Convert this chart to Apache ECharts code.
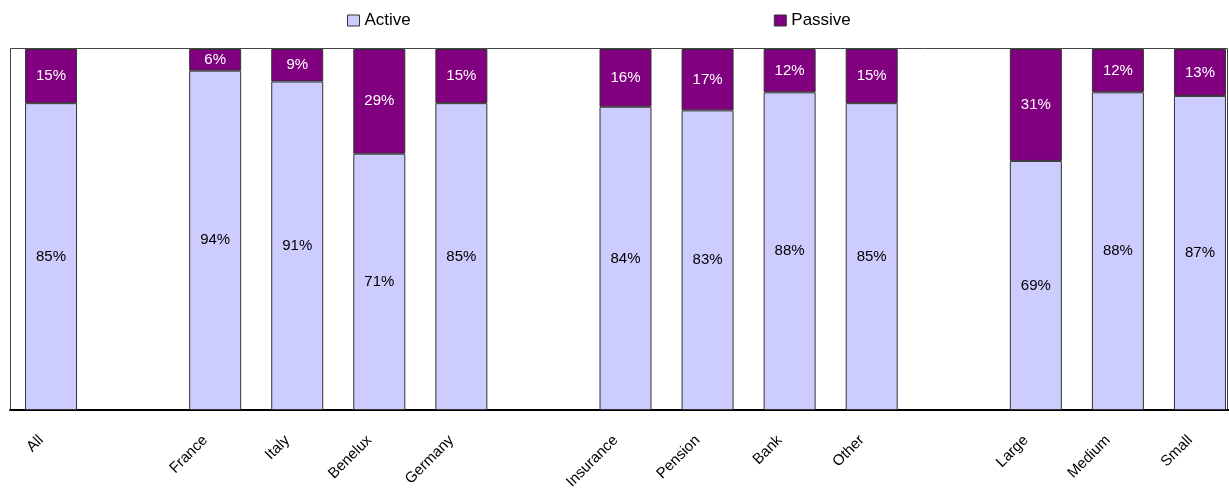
<!DOCTYPE html>
<html>
<head>
<meta charset="utf-8">
<script src="https://cdn.jsdelivr.net/npm/echarts@6/dist/echarts.min.js"></script>
<style>
html,body{margin:0;padding:0;background:#fff;}
#chart{width:1229px;height:490px;}
</style>
</head>
<body>
<div id="chart"></div>
<script>
const categories = ['All', '', 'France', 'Italy', 'Benelux', 'Germany', '', 'Insurance', 'Pension', 'Bank', 'Other', '', 'Large', 'Medium', 'Small'];
const activeValues = [85, null, 94, 91, 71, 85, null, 84, 83, 88, 85, null, 69, 88, 87];
const passiveValues = [15, null, 6, 9, 29, 15, null, 16, 17, 12, 15, null, 31, 12, 13];

const FONT = '"Liberation Sans", Arial, sans-serif';
const chart = echarts.init(document.getElementById('chart'), null, {renderer: 'canvas'});
chart.setOption({
  animation: false,
  backgroundColor: '#fff',
  legend: {
    top: 12,
    left: 347,
    padding: 0,
    itemWidth: 12,
    itemHeight: 11,
    itemGap: 363,
    icon: 'rect',
    textStyle: {fontFamily: FONT, fontSize: 17, color: '#000'},
    data: [
      {name: 'Active', itemStyle: {borderColor: '#333', borderWidth: 1}},
      {name: 'Passive', itemStyle: {borderColor: '#333', borderWidth: 1}}
    ]
  },
  graphic: [{
    type: 'polyline', silent: true, z: 0,
    shape: {points: [[10.5, 410], [10.5, 48.5], [1227.5, 48.5], [1227.5, 410]]},
    style: {fill: null, stroke: '#444', lineWidth: 1}
  }],
  grid: {
    left: 10, top: 49, width: 1231, height: 361,
    show: false, containLabel: false, outerBoundsMode: 'none'
  },
  xAxis: {
    type: 'category',
    data: categories,
    axisLine: {lineStyle: {color: '#000', width: 2}},
    axisTick: {show: false},
    axisLabel: {rotate: 45, interval: 0, margin: 18, padding: [0, 14, 0, 0], fontFamily: FONT, fontSize: 15, color: '#000'}
  },
  yAxis: {
    type: 'value', min: 0, max: 100,
    show: false, splitLine: {show: false}
  },
  series: [
    {
      name: 'Active', type: 'bar', stack: 'total', barWidth: 52,
      data: activeValues,
      itemStyle: {color: '#CCCCFF', borderColor: '#333', borderWidth: 1},
      label: {show: true, position: 'inside', formatter: p => p.value + '%', fontFamily: FONT, fontSize: 15, color: '#000', padding: [3, 0, 0, 0]}
    },
    {
      name: 'Passive', type: 'bar', stack: 'total', barWidth: 52,
      data: passiveValues,
      itemStyle: {color: '#800080', borderColor: '#333', borderWidth: 1},
      label: {show: true, position: 'inside', formatter: p => p.value + '%', fontFamily: FONT, fontSize: 15, color: '#fff', padding: [3, 0, 0, 0]}
    }
  ]
});
</script>
</body>
</html>
